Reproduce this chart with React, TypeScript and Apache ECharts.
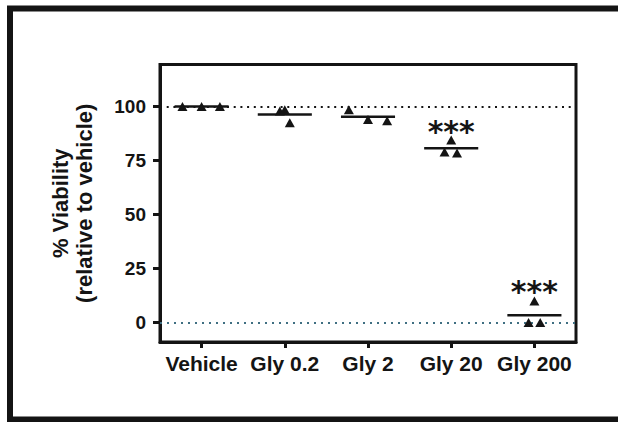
import React, { useEffect, useRef } from "react";
import * as echarts from "echarts";

// Groups and per-well viability (% of vehicle)
const CATEGORIES = ["Vehicle", "Gly 0.2", "Gly 2", "Gly 20", "Gly 200"];
const VEHICLE = [100, 100, 100];
const GLY_0_2 = [98, 98.5, 92.5];
const GLY_2 = [98.5, 94, 93.5];
const GLY_20 = [84.5, 79, 78.5];
const GLY_200 = [10, 0, 0];
const GROUPS = [VEHICLE, GLY_0_2, GLY_2, GLY_20, GLY_200];
const SIGNIFICANCE = ["", "", "", "***", "***"];
const Y_TICKS = [0, 25, 50, 75, 100];

// Horizontal spread of replicate points within a group (in category units)
const SPREAD = [
  [-0.23, 0, 0.22],
  [-0.06, 0, 0.06],
  [-0.23, 0, 0.23],
  [0, -0.08, 0.07],
  [0, -0.07, 0.07],
];

const FONT = "'Liberation Sans', Arial, Helvetica, sans-serif";
const INK = "#141414";

const mean = (a: number[]) => a.reduce((s, v) => s + v, 0) / a.length;

export default function App() {
  const ref = useRef<HTMLDivElement>(null);

  useEffect(() => {
    if (!ref.current) return;
    const chart = echarts.init(ref.current, null, { renderer: "svg" });

    const points: number[][] = [];
    GROUPS.forEach((vals, i) =>
      vals.forEach((v, j) => points.push([i + SPREAD[i][j], v]))
    );
    const means = GROUPS.map((vals, i) => [i, mean(vals)]);
    const stars = GROUPS.map((vals, i) => [i, Math.max(...vals), i]).filter(
      (d) => SIGNIFICANCE[d[2]] !== ""
    );

    chart.setOption({
      animation: false,
      backgroundColor: "#ffffff",
      graphic: [
        {
          type: "rect",
          shape: { x: 10, y: 8.5, width: 700, height: 411 },
          style: { fill: "none", stroke: INK, lineWidth: 6 },
          silent: true,
        },
      ],
      grid: {
        left: 160,
        right: 42,
        top: 64.5,
        bottom: 80,
        show: true,
        borderColor: INK,
        borderWidth: 3,
      },
      xAxis: {
        type: "value",
        min: -0.5,
        max: 4.5,
        splitLine: { show: false },
        axisLine: { show: true, onZero: false, lineStyle: { color: INK, width: 3 } },
        axisTick: {
          show: true,
          length: 6,
          lineStyle: { color: INK, width: 3 },
          customValues: [0, 1, 2, 3, 4],
        },
        axisLabel: {
          customValues: [0, 1, 2, 3, 4],
          formatter: (v: number) => CATEGORIES[Math.round(v)] ?? "",
          color: INK,
          fontFamily: FONT,
          fontWeight: "bold",
          fontSize: 21,
          margin: 11,
        },
      },
      yAxis: {
        type: "value",
        min: -9,
        max: 119.5,
        splitLine: { show: false },
        axisLine: { show: true, onZero: false, lineStyle: { color: INK, width: 3 } },
        axisTick: {
          show: true,
          length: 7,
          lineStyle: { color: INK, width: 3 },
          customValues: Y_TICKS,
        },
        axisLabel: {
          customValues: Y_TICKS,
          color: INK,
          fontFamily: FONT,
          fontWeight: "bold",
          fontSize: 19,
          margin: 14,
        },
        name: "% Viability\n(relative to vehicle)",
        nameLocation: "middle",
        nameGap: 64,
        nameTextStyle: {
          color: INK,
          fontFamily: FONT,
          fontWeight: "bold",
          fontSize: 22,
          lineHeight: 24,
        },
      },
      series: [
        {
          type: "scatter",
          data: points,
          symbol: "triangle",
          symbolSize: [10, 9],
          itemStyle: { color: INK, opacity: 1 },
          z: 5,
          markLine: {
            silent: true,
            symbol: "none",
            label: { show: false },
            data: [
              { yAxis: 100, lineStyle: { color: INK, width: 2, type: [2, 4.7] } },
              { yAxis: 0, lineStyle: { color: "#3f6f82", width: 2, type: [2, 5] } },
            ],
          },
        },
        {
          type: "custom",
          data: means,
          z: 4,
          renderItem: (_params: any, api: any) => {
            const i = api.value(0);
            const m = api.value(1);
            const a = api.coord([i - 0.325, m]);
            const b = api.coord([i + 0.325, m]);
            return {
              type: "line",
              shape: { x1: a[0], y1: a[1], x2: b[0], y2: b[1] },
              style: { stroke: INK, lineWidth: 2.5 },
            };
          },
        },
        {
          type: "custom",
          data: stars,
          z: 6,
          renderItem: (_params: any, api: any) => {
            const i = api.value(0);
            const top = api.value(1);
            const p = api.coord([i, top]);
            return {
              type: "text",
              x: p[0],
              y: p[1] - 9,
              style: {
                text: SIGNIFICANCE[api.value(2)],
                fill: INK,
                font: "bold 30px 'DejaVu Sans', sans-serif",
                align: "center",
                verticalAlign: "middle",
              },
            };
          },
        },
      ],
    });

    return () => chart.dispose();
  }, []);

  return (
    <div
      ref={ref}
      style={{ position: "absolute", left: 0, top: 0, width: 618, height: 422 }}
    />
  );
}
